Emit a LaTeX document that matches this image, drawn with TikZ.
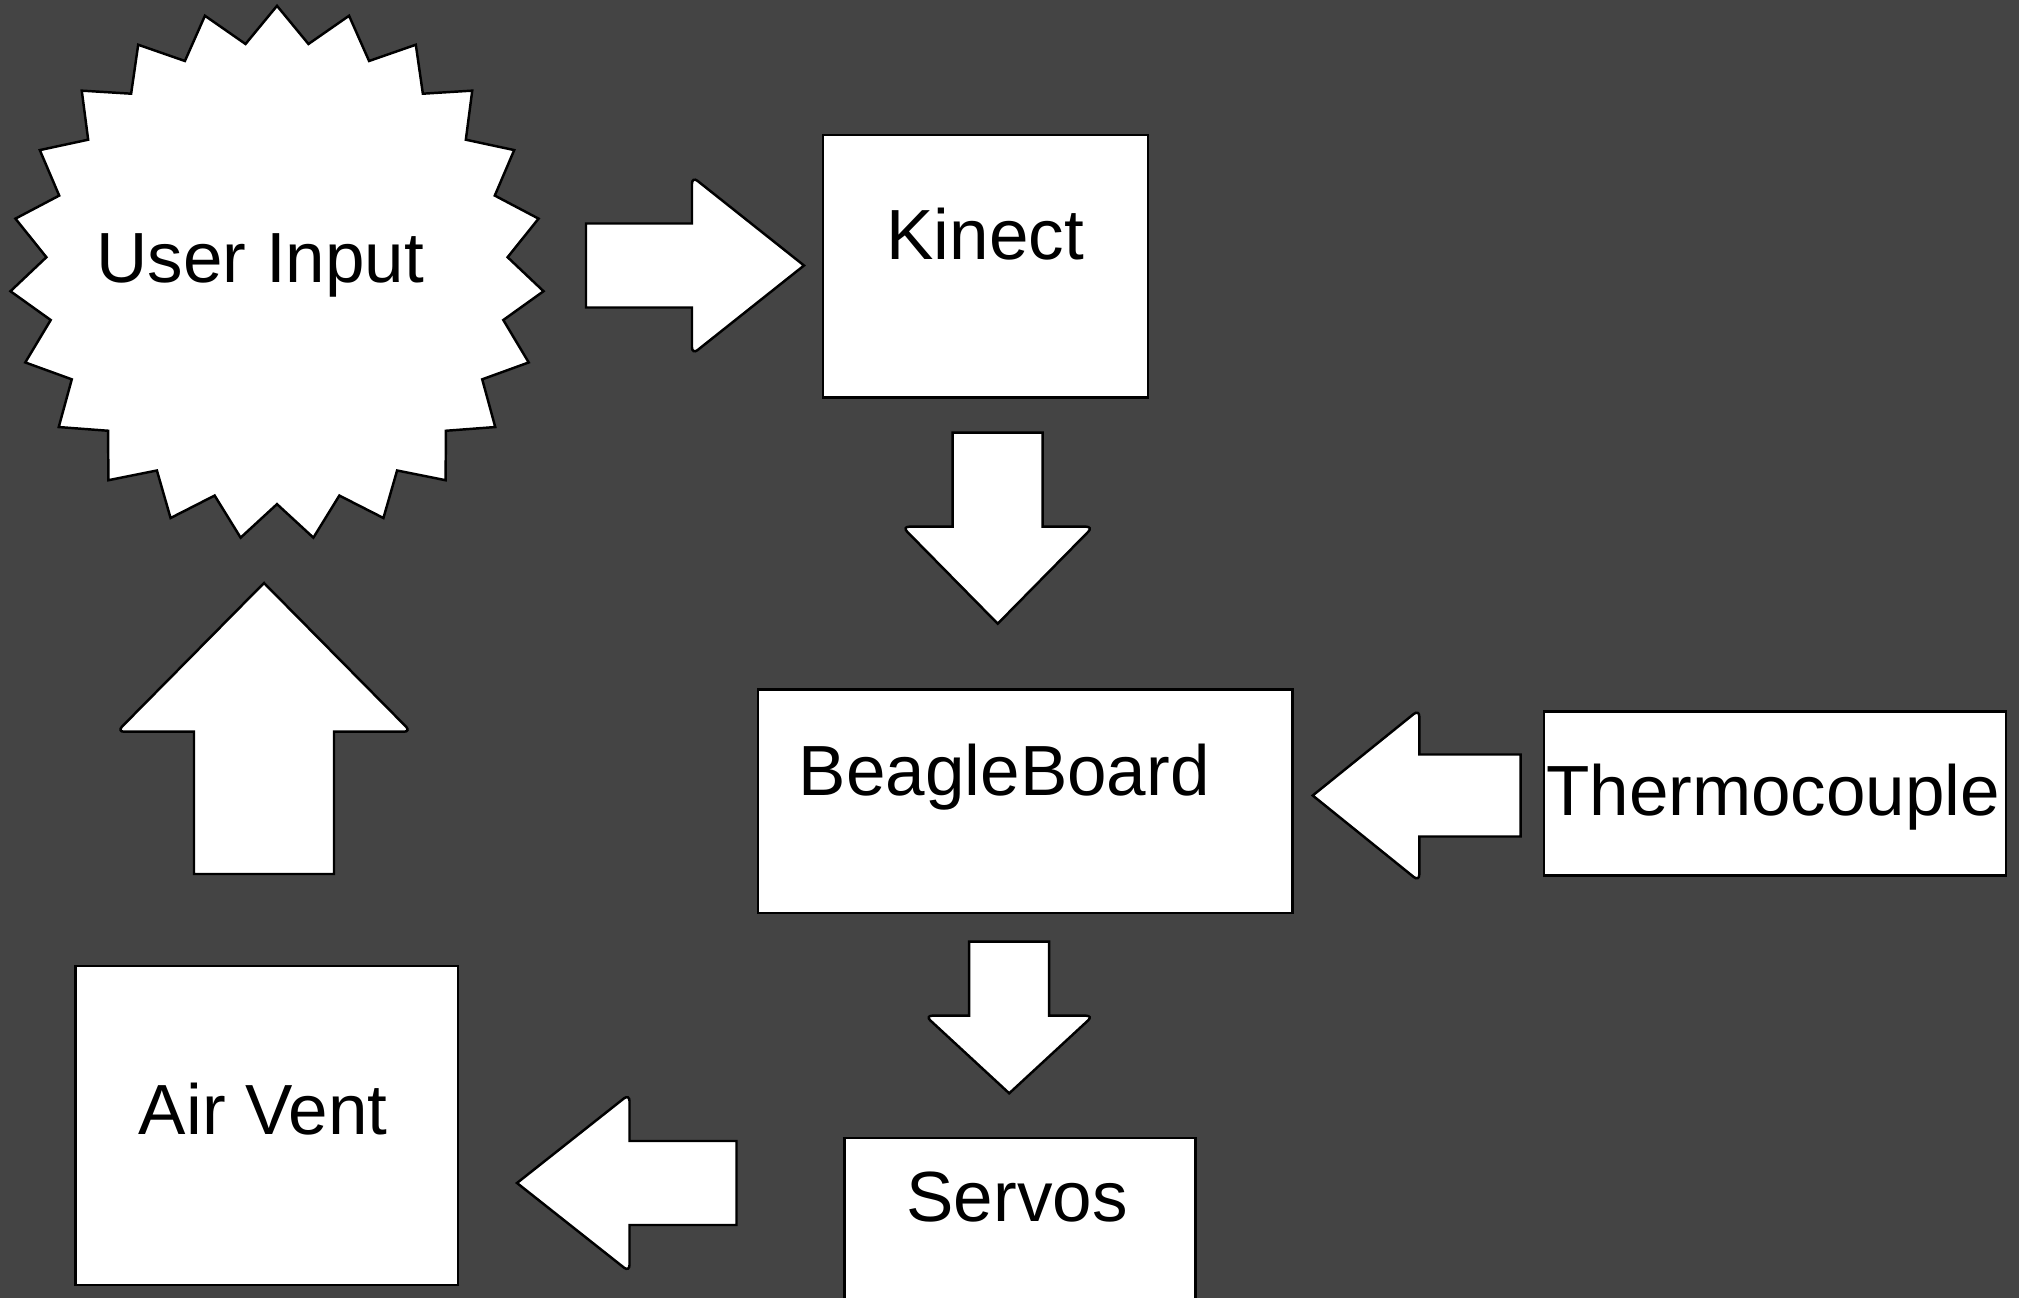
\documentclass[tikz,border=0pt]{standalone}
\usepackage{fontspec}
\setmainfont{Liberation Sans}
\usetikzlibrary{shapes.geometric}
\definecolor{slidebg}{RGB}{68,68,68}

\begin{document}
\begin{tikzpicture}[x=0.01cm, y=-0.01cm]
  \tikzset{box/.style = {
  shape = rectangle,
  draw = black,
  fill = white,
  line width = 0.7pt,
  inner sep = 0pt,
  anchor = north west}}
  \tikzset{burst/.style = {
  shape = star,
  star points = 23,
  star point ratio = 1.156,
  minimum size = 5.34cm,
  draw = black,
  fill = white,
  line width = 0.7pt,
  inner sep = 0pt}}
  \tikzset{blockarrow/.style = {draw = black, fill = white, line width = 0.7pt}}
  \tikzset{barb/.style = {rounded corners = 2pt}}
  \tikzset{lbl/.style = {font = \fontsize{20.2pt}{24pt}\selectfont, inner sep = 0pt, anchor = base}}
  \useasboundingbox (0,0) rectangle (2019,1298);
  \fill[slidebg] (0,0) rectangle (2019,1298);
  \node[burst] (userinput) at (277,273) {};
  \node[box, minimum width=3.25cm, minimum height=2.62cm] (kinect) at (821.5,134) {};
  \node[box, minimum width=5.34cm, minimum height=2.232cm] (beagle) at (757,688.5) {};
  \node[box, minimum width=4.62cm, minimum height=1.637cm] (thermo) at (1542.6,710.5) {};
  \node[box, minimum width=3.51cm, minimum height=2.62cm] (servos) at (843.2,1136.7) {};
  \node[box, minimum width=3.82cm, minimum height=3.19cm] (airvent) at (74.3,964.7) {};
  \begin{scope}[shift={(586,265.5)}]
    \draw[blockarrow] (0,-42) -- (106,-42) [barb] -- (106,-89) [sharp corners] -- (218,0)
      [barb] -- (106,89) [sharp corners] -- (106,42) -- (0,42) -- cycle;
  \end{scope}
  \begin{scope}[shift={(997.7,432.7)}, rotate=-90]
    \draw[blockarrow] (0,-45) -- (94,-45) [barb] -- (94,-95.5) [sharp corners] -- (191,0)
      [barb] -- (94,95.5) [sharp corners] -- (94,45) -- (0,45) -- cycle;
  \end{scope}
  \begin{scope}[shift={(1520.7,795.5)}, rotate=180]
    \draw[blockarrow] (0,-41) -- (101.4,-41) [barb] -- (101.4,-86) [sharp corners] -- (208,0)
      [barb] -- (101.4,86) [sharp corners] -- (101.4,41) -- (0,41) -- cycle;
  \end{scope}
  \begin{scope}[shift={(1009.2,941.7)}, rotate=-90]
    \draw[blockarrow] (0,-40) -- (74,-40) [barb] -- (74,-84) [sharp corners] -- (151.6,0)
      [barb] -- (74,84) [sharp corners] -- (74,40) -- (0,40) -- cycle;
  \end{scope}
  \begin{scope}[shift={(736.5,1183)}, rotate=180]
    \draw[blockarrow] (0,-42) -- (107,-42) [barb] -- (107,-89) [sharp corners] -- (219.5,0)
      [barb] -- (107,89) [sharp corners] -- (107,42) -- (0,42) -- cycle;
  \end{scope}
  \begin{scope}[shift={(264,874)}, rotate=90]
    \draw[blockarrow] (0,-70) -- (142.3,-70) [barb] -- (142.3,-147) [sharp corners] -- (291,0)
      [barb] -- (142.3,147) [sharp corners] -- (142.3,70) -- (0,70) -- cycle;
  \end{scope}
  \node[lbl] (userinput-text) at (260.4,282.1) {User Input};
  \node[lbl] (kinect-text) at (985.3,260) {Kinect};
  \node[lbl] (beagle-text) at (1004.3,795) {BeagleBoard};
  \node[lbl] (thermo-text) at (1773.2,815) {Thermocouple};
  \node[lbl] (servos-text) at (1017,1221) {Servos};
  \node[lbl] (airvent-text) at (263.3,1134.7) {Air Vent};
\end{tikzpicture}
\end{document}
